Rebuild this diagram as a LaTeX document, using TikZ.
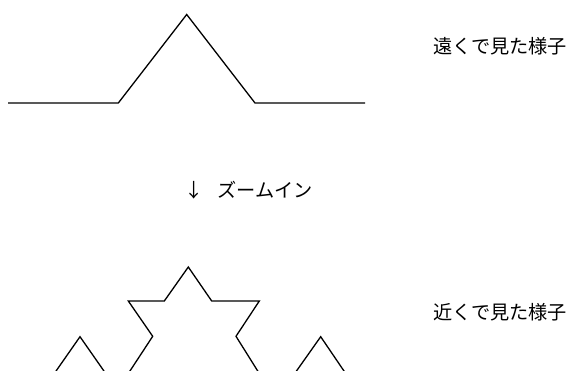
\documentclass[tikz,border=0pt]{standalone}
\usepackage{fontspec}
\newfontfamily\cjk{Noto Sans CJK JP}
\begin{document}
\begin{tikzpicture}[x=1pt,y=-1pt,
  curve/.style={line width=1.3pt,line join=miter},
  lbl/.style={font=\cjk\fontsize{19.2}{21}\selectfont,inner sep=0pt,anchor=west}]
\useasboundingbox (0,0) rectangle (577,370);
\clip (0,0) rectangle (577,370);
% far view
\coordinate (a1) at (8,103);
\coordinate (a2) at (118.3,103);
\coordinate (a3) at (186.7,14.5);
\coordinate (a4) at (255,103);
\coordinate (a5) at (365,103);
\draw[curve] (a1) -- (a2) -- (a3) -- (a4) -- (a5);
% near view
\coordinate (l1) at (54.3,373.5);
\coordinate (l2) at (80,336.7);
\coordinate (l3) at (105.7,373.5);
\draw[curve] (l1) -- (l2) -- (l3);
\coordinate (m1) at (128.3,373.5);
\coordinate (m2) at (152.7,336.3);
\coordinate (m3) at (128.3,301);
\coordinate (m4) at (164.3,301);
\coordinate (m5) at (188.3,267);
\coordinate (m6) at (211.7,301);
\coordinate (m7) at (259.3,301);
\coordinate (m8) at (236,336.3);
\coordinate (m9) at (259.3,373.5);
\draw[curve] (m1) -- (m2) -- (m3) -- (m4) -- (m5) -- (m6) -- (m7) -- (m8) -- (m9);
\coordinate (r1) at (294.7,373.5);
\coordinate (r2) at (320.7,336.7);
\coordinate (r3) at (345.7,373.5);
\draw[curve] (r1) -- (r2) -- (r3);
% labels
\node[lbl] (far) at (433,46.5) {遠くで見た様子};
\node[lbl] (near) at (433,312) {近くで見た様子};
\node[lbl] (zoom) at (184,190) {↓\hspace{13.8pt}ズームイン};
\end{tikzpicture}
\end{document}
